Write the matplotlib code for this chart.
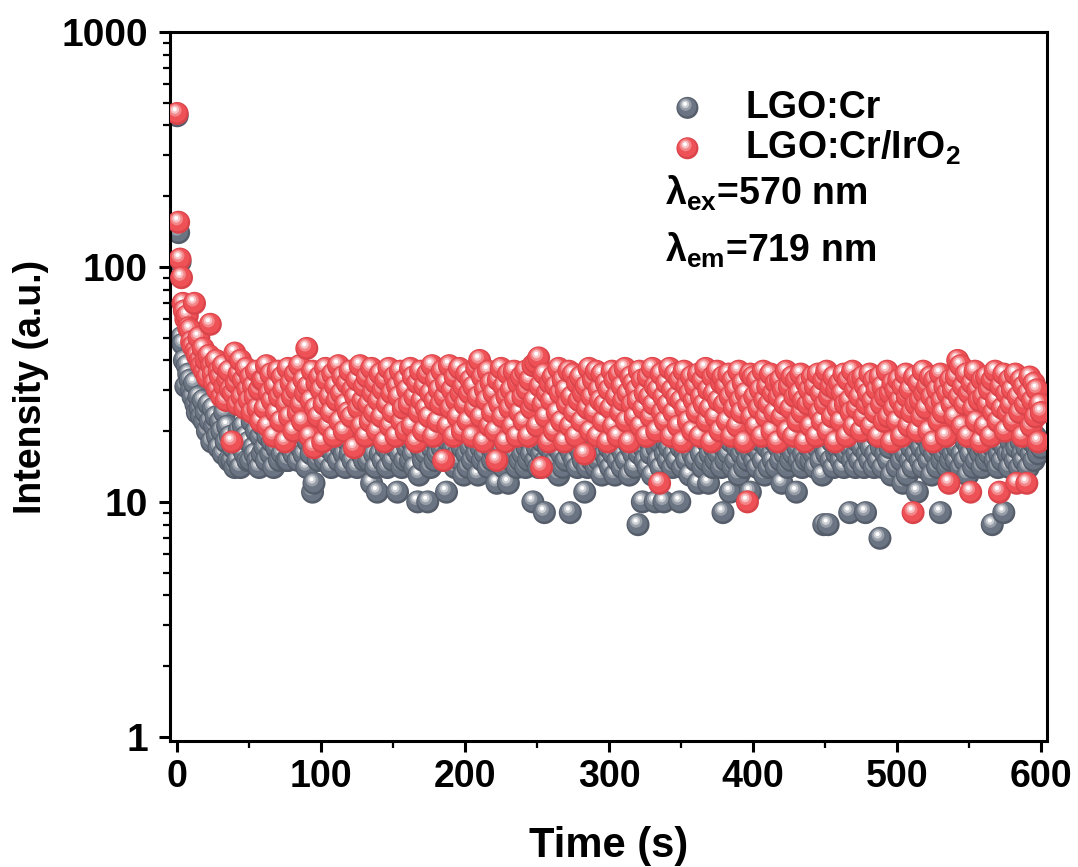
import numpy as np
import matplotlib.pyplot as plt
from matplotlib.ticker import FixedLocator, MultipleLocator, NullFormatter, FuncFormatter
from matplotlib.colors import to_rgb

plt.rcParams['font.family'] = ['Liberation Sans', 'DejaVu Sans']
plt.rcParams['font.weight'] = 'bold'
plt.rcParams['axes.labelweight'] = 'bold'
plt.rcParams['mathtext.fontset'] = 'custom'
plt.rcParams['mathtext.bf'] = 'Liberation Sans:bold'
plt.rcParams['mathtext.rm'] = 'Liberation Sans:bold'
plt.rcParams['mathtext.default'] = 'bf'

# afterglow decay, one point per second (0..600 s)
lgo_cr_ir = [
    450, 155, 108, 90, 70, 65, 60, 62, 55, 54, 48, 46, 70, 44, 42, 50, 40, 38, 45, 36,
    40, 34, 42, 57, 38, 35, 32, 40, 30, 36, 34, 28, 38, 31, 27, 33, 36, 30, 18, 29,
    43, 32, 26, 35, 40, 28, 33, 25, 37, 30, 27, 34, 24, 31, 28, 36, 25, 30, 22, 33,
    33, 25, 38, 21, 29, 35, 27, 19, 31, 24, 36, 28, 22, 34, 30, 18, 26, 37, 23, 32,
    28, 20, 35, 30, 24, 38, 26, 22, 33, 29, 45, 31, 19, 27, 36, 17, 25, 32, 23, 34,
    30, 18, 26, 37, 33, 21, 28, 24, 35, 19, 31, 27, 38, 22, 29, 34, 20, 26, 32, 24,
    36, 23, 30, 17, 28, 33, 25, 38, 21, 27, 31, 19, 34, 26, 22, 37, 29, 24, 32, 20,
    27, 35, 23, 30, 18, 33, 26, 37, 21, 29, 24, 34, 19, 31, 28, 36, 22, 25, 33, 20,
    30, 26, 37, 21, 34, 28, 18, 32, 24, 36, 27, 20, 31, 25, 35, 23, 29, 38, 19, 27,
    33, 22, 30, 26, 36, 15, 28, 32, 21, 38, 25, 30, 19, 34, 27, 23, 37, 29, 20, 31,
    26, 35, 22, 29, 33, 19, 31, 25, 37, 28, 40, 23, 34, 18, 30, 27, 36, 21, 32, 24,
    29, 20, 15, 33, 26, 37, 23, 31, 18, 28, 35, 25, 30, 21, 36, 27, 19, 32, 24, 34,
    28, 22, 36, 30, 19, 33, 25, 38, 27, 39, 21, 41, 31, 14, 26, 35, 23, 29, 18, 32,
    27, 34, 20, 31, 24, 37, 29, 22, 33, 18, 30, 26, 36, 21, 28, 35, 24, 19, 32, 27,
    34, 22, 29, 16, 31, 25, 37, 20, 28, 33, 24, 36, 19, 30, 27, 35, 22, 26, 32, 18,
    30, 25, 36, 21, 33, 28, 19, 35, 24, 31, 27, 37, 22, 29, 18, 34, 26, 32, 23, 30,
    27, 36, 21, 33, 25, 29, 19, 34, 28, 23, 37, 26, 31, 20, 30, 12, 35, 24, 28, 22,
    32, 26, 37, 19, 30, 24, 35, 28, 21, 33, 27, 18, 36, 25, 31, 22, 29, 34, 20, 27,
    31, 24, 35, 19, 28, 33, 26, 37, 22, 30, 25, 18, 34, 29, 23, 36, 27, 20, 32, 34,
    26, 31, 22, 35, 28, 19, 33, 25, 30, 21, 36, 27, 24, 32, 18, 29, 10, 26, 35, 23,
    34, 28, 21, 33, 25, 30, 19, 36, 27, 23, 31, 26, 35, 20, 29, 24, 32, 18, 28, 33,
    23, 30, 26, 36, 20, 31, 25, 34, 19, 28, 33, 22, 29, 35, 24, 27, 18, 32, 26, 30,
    21, 34, 27, 31, 19, 35, 24, 29, 22, 33, 26, 36, 20, 28, 31, 23, 34, 18, 30, 25,
    32, 22, 29, 35, 26, 19, 33, 27, 24, 36, 21, 30, 25, 33, 28, 20, 34, 23, 31, 26,
    29, 35, 21, 27, 33, 24, 30, 19, 34, 26, 31, 22, 28, 36, 23, 29, 18, 32, 25, 30,
    22, 33, 27, 19, 31, 25, 35, 28, 21, 30, 24, 9, 34, 26, 20, 32, 27, 23, 36, 29,
    25, 31, 20, 34, 28, 18, 33, 26, 30, 22, 35, 27, 24, 31, 19, 29, 12, 33, 26, 30,
    23, 34, 40, 28, 38, 21, 31, 26, 35, 19, 29, 11, 32, 25, 36, 22, 30, 27, 18, 33,
    28, 21, 34, 26, 30, 19, 33, 24, 36, 27, 22, 11, 31, 25, 35, 20, 29, 24, 33, 26,
    30, 22, 35, 12, 28, 24, 33, 19, 31, 26, 12, 29, 34, 21, 27, 32, 23, 30, 18, 26,
    24,
]

lgo_cr = [
    440, 140, 105, 50, 47, 40, 31, 38, 35, 33, 30, 28, 32, 26, 24, 28, 25, 23, 27, 22,
    24, 20, 26, 22, 18, 25, 21, 23, 19, 17, 22, 20, 16, 24, 18, 21, 15, 19, 15, 17,
    14, 18, 15, 20, 14, 17, 21, 16, 19, 15, 18, 15, 22, 17, 16, 20, 15, 14, 19, 16,
    21, 17, 15, 19, 23, 16, 18, 14, 20, 17, 22, 15, 19, 16, 24, 18, 15, 15, 21, 17,
    19, 16, 22, 18, 15, 20, 17, 23, 16, 19, 14, 18, 21, 16, 11, 12, 20, 17, 15, 19,
    22, 16, 18, 15, 21, 17, 19, 14, 20, 16, 23, 18, 15, 19, 17, 22, 16, 14, 20, 18,
    16, 21, 15, 19, 17, 14, 22, 18, 16, 20, 15, 19, 17, 15, 21, 12, 18, 16, 14, 11,
    19, 16, 21, 15, 18, 17, 14, 20, 16, 19, 15, 22, 17, 11, 18, 16, 14, 20, 15, 19,
    17, 21, 15, 18, 16, 14, 19, 10, 13, 17, 20, 15, 18, 16, 10, 19, 14, 17, 21, 15,
    18, 16, 20, 30, 17, 19, 15, 11, 16, 18, 21, 15, 17, 14, 20, 16, 19, 15, 17, 13,
    19, 16, 14, 20, 17, 15, 22, 18, 16, 13, 19, 17, 15, 20, 16, 18, 14, 21, 17, 15,
    18, 16, 12, 19, 15, 17, 20, 14, 18, 16, 12, 19, 15, 17, 21, 16, 14, 18, 15, 19,
    16, 20, 14, 17, 15, 18, 16, 10, 19, 15, 17, 14, 20, 16, 18, 9, 15, 19, 17, 14,
    18, 16, 20, 15, 17, 13, 19, 16, 14, 18, 15, 20, 17, 9, 16, 19, 15, 18, 14, 17,
    20, 16, 15, 11, 18, 14, 17, 19, 15, 16, 21, 14, 18, 15, 17, 13, 19, 16, 20, 15,
    17, 14, 19, 16, 13, 18, 15, 20, 17, 14, 16, 19, 15, 18, 13, 17, 20, 16, 14, 18,
    8, 16, 19, 10, 17, 15, 20, 14, 18, 16, 13, 19, 10, 17, 15, 18, 14, 20, 10, 16,
    18, 15, 17, 20, 14, 16, 19, 15, 18, 10, 17, 14, 20, 16, 15, 19, 13, 17, 16, 18,
    15, 19, 12, 17, 16, 14, 20, 15, 18, 12, 16, 19, 14, 17, 15, 20, 16, 18, 14, 9,
    17, 15, 19, 16, 11, 18, 14, 20, 15, 17, 13, 19, 16, 18, 14, 17, 15, 20, 11, 16,
    19, 15, 17, 14, 20, 16, 18, 15, 13, 19, 17, 14, 21, 16, 15, 18, 14, 20, 17, 15,
    12, 18, 16, 19, 14, 17, 15, 20, 16, 18, 11, 17, 15, 19, 14, 16, 20, 15, 18, 17,
    15, 19, 16, 14, 18, 17, 30, 15, 13, 8, 17, 16, 8, 19, 15, 18, 14, 20, 16, 17,
    19, 15, 17, 14, 18, 16, 20, 9, 17, 15, 19, 14, 16, 18, 15, 20, 17, 14, 9, 16,
    18, 15, 17, 20, 14, 16, 19, 15, 7, 17, 14, 18, 16, 20, 15, 17, 13, 19, 28, 18,
    14, 17, 20, 15, 12, 18, 16, 13, 19, 15, 17, 14, 20, 16, 11, 18, 15, 17, 14, 19,
    16, 20, 15, 17, 13, 18, 16, 19, 14, 17, 9, 15, 20, 16, 18, 14, 17, 15, 19, 16,
    18, 15, 17, 20, 14, 16, 19, 15, 18, 13, 17, 16, 20, 14, 18, 15, 17, 19, 16, 14,
    17, 19, 15, 18, 16, 20, 8, 17, 15, 19, 14, 16, 18, 15, 9, 17, 20, 16, 14, 18,
    16, 19, 15, 17, 20, 14, 18, 16, 15, 19, 17, 14, 20, 16, 18, 15, 19, 17, 16, 18,
    17,
]

t_cr = np.arange(len(lgo_cr))
t_ir = np.arange(len(lgo_cr_ir))

DPI = 100
fig = plt.figure(figsize=(10.78, 8.67), dpi=DPI)
ax = fig.add_axes([170/1078, 1 - 741/867, 877/1078, 709/867])
ax.set_yscale('log')
ax.set_xlim(-5, 604)
ax.set_ylim(0.96, 1000)


def mix(c, w):
    c = np.array(to_rgb(c))
    return tuple(c + (1 - c) * w) + (1.0,)


def balls(x, y, dark, body, r=11.5, z=2, where=None):
    # fake shaded spheres: stacked discs, each point's layers kept together
    layers = [(1.0, 0.0, None), (0.86, 0.08, 0.0), (0.55, 0.28, 0.3),
              (0.36, 0.33, 0.65), (0.18, 0.36, 1.0)]
    tr = ax.transData if where is None else where
    pts = tr.transform(np.column_stack([x, y]))
    offs, sizes, cols = [], [], []
    for px, py in pts:
        for frac, sh, w in layers:
            offs.append((px - sh * r * 0.6, py + sh * r))
            sizes.append((2 * r * frac * 72 / DPI) ** 2)
            cols.append(mix(dark, 0) if w is None else mix(body, w))
    d = ax.transData.inverted().transform(np.array(offs))
    ax.scatter(d[:, 0], d[:, 1], s=sizes, c=np.array(cols), linewidths=0,
               zorder=z, clip_on=where is None)


balls(t_cr, lgo_cr, '#555d6a', '#6b7482', z=2)
balls(t_ir, lgo_cr_ir, '#d9444a', '#ee5257', z=3)

# legend made by hand
balls([0.590], [0.893], '#555d6a', '#6b7482', r=11, z=5, where=ax.transAxes)
balls([0.590], [0.836], '#d9444a', '#ee5257', r=11, z=5, where=ax.transAxes)
ax.text(0.656, 0.893, 'LGO:Cr', transform=ax.transAxes, fontsize=27,
        va='center', ha='left')
ax.text(0.656, 0.836, 'LGO:Cr/IrO$_2$', transform=ax.transAxes, fontsize=27,
        va='center', ha='left')
ax.text(0.564, 0.773, 'λ$_{ex}$=570 nm', transform=ax.transAxes, fontsize=27,
        va='center', ha='left')
ax.text(0.564, 0.692, 'λ$_{em}$=719 nm', transform=ax.transAxes, fontsize=27,
        va='center', ha='left')

for s in ax.spines.values():
    s.set_linewidth(2.2)
ax.yaxis.set_major_locator(FixedLocator([1, 10, 100, 1000]))
ax.yaxis.set_minor_locator(FixedLocator([k * 10.0 ** e for e in range(3) for k in range(2, 10)]))
ax.yaxis.set_major_formatter(FuncFormatter(lambda v, p: f'{v:g}'))
ax.yaxis.set_minor_formatter(NullFormatter())
ax.xaxis.set_major_locator(MultipleLocator(100))
ax.xaxis.set_minor_locator(FixedLocator([50, 150, 250, 350, 450, 550]))
ax.tick_params(which='major', direction='out', length=8, width=2.2, labelsize=28)
ax.tick_params(which='minor', direction='out', length=5, width=1.6)
ax.tick_params(axis='y', which='major', pad=8)
ax.tick_params(axis='x', which='major', pad=5, labelsize=27)

ax.set_xlabel('Time (s)', fontsize=30, labelpad=22)
ax.set_ylabel('Intensity (a.u.)', fontsize=27, labelpad=9)

fig.savefig('out.png', dpi=DPI)
